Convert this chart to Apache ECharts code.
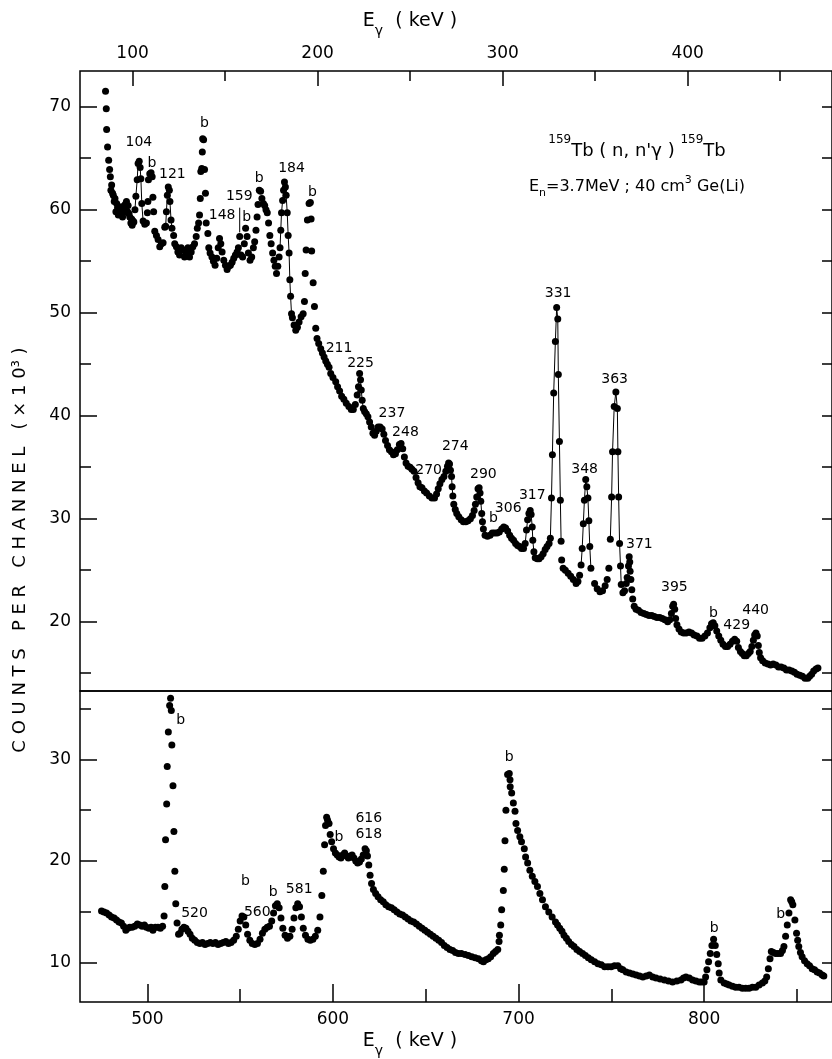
<!DOCTYPE html>
<html>
<head>
<meta charset="utf-8">
<title>159Tb(n,n'g) spectrum</title>
<script src="https://cdn.jsdelivr.net/npm/echarts@6/dist/echarts.min.js"></script>
<style>
html,body{margin:0;padding:0;background:#fff;}
#main{width:832px;height:1059px;}
</style>
</head>
<body>
<div id="main"></div>
<script>
// upper panel: [E (keV), counts per channel (x10^3)]
var topSpectrum = [
[85.4,71.5],[85.8,69.8],[86.0,67.8],[86.5,66.1],[87.1,64.8],[87.6,63.9],[88.0,63.2],[88.3,61.9],[88.7,62.4],[89.2,61.6],[89.6,61.4],[90.1,60.8],[90.5,61.1],[91.0,59.8],[91.4,60.6],[91.9,60.2],[92.3,59.5],[92.8,60.1],[93.3,59.9],[93.7,59.6],[94.1,60.3],[94.6,59.3],[95.0,59.7],[95.5,60.0],[96.0,60.5],[96.4,60.1],[96.7,60.8],[97.3,59.8],[97.6,60.4],[98.1,59.6],[98.5,59.3],[99.1,58.7],[99.5,59.1],[99.8,58.5],[100.3,58.9],[100.7,58.8],
[101.3,60.0],[101.8,61.3],[102.5,62.9],[103.0,64.5],[103.6,64.7],[104.1,64.1],[104.5,63.0],[105.0,60.6],[105.7,58.9],
[106.6,58.6],[107.5,58.7],[108.0,59.7],[108.3,60.8],[108.6,62.9],[109.3,63.5],[110.0,63.6],[110.6,63.2],[111.0,61.2],[111.4,59.8],[112.0,57.9],[112.9,57.5],[113.8,57.1],[114.7,56.4],[115.6,56.7],[116.5,56.8],[117.4,58.3],
[117.9,58.4],[118.3,59.8],[118.8,61.4],[119.3,62.2],[119.9,61.9],[120.2,60.8],[120.8,59.0],[121.3,58.2],
[122.2,57.5],[122.8,56.7],[123.7,56.4],[124.5,55.9],[125.4,55.6],[126.3,56.3],[127.2,56.1],[128.1,55.4],[129.0,55.8],[129.9,56.3],[130.8,55.4],[131.7,55.9],[132.6,56.4],[133.5,56.7],[134.4,57.4],[135.0,58.2],[135.7,58.7],
[136.2,59.5],[136.6,61.1],[136.9,63.7],[137.4,64.0],[137.7,65.6],[137.9,66.9],[138.4,66.8],[138.9,63.9],[139.4,61.6],[139.8,58.7],[140.7,57.7],[141.2,56.3],[141.9,55.8],[142.9,55.4],[143.7,55.0],[144.6,54.6],[145.5,55.3],[146.3,56.3],[147.0,57.2],[147.7,56.7],[148.4,55.9],[149.3,55.1],[150.2,54.6],[151.1,54.2],[152.0,54.5],[152.9,54.6],[153.8,54.9],[154.7,55.3],[155.6,55.6],[156.5,55.9],[157.2,56.3],[157.9,57.4],[158.6,55.6],[159.5,55.4],[160.4,56.7],[161.1,58.2],[161.9,57.4],[162.6,55.8],[163.5,55.1],[164.4,55.4],[165.3,56.3],[166.0,56.9],[166.7,58.0],[167.3,59.3],[167.8,60.5],[168.5,61.9],[169.2,61.8],[169.9,61.1],[170.7,60.6],[171.4,60.4],[172.1,60.0],[172.8,59.7],[173.5,58.7],[174.2,57.5],[174.9,56.7],[175.7,55.8],[176.4,55.1],[177.1,54.5],[177.8,53.8],[178.5,54.5],[179.2,55.4],
[179.7,56.3],[180.1,58.0],[180.5,59.7],[181.1,60.9],[181.6,61.9],[182.1,62.7],[182.6,62.2],[183.0,61.4],[183.6,59.7],[184.1,57.5],[184.6,55.8],[185.0,53.2],[185.4,51.6],[185.9,49.9],
[186.4,49.5],[187.3,48.8],[188.2,48.3],[189.1,48.6],[190.0,49.1],[191.1,49.6],[192.2,49.9],[192.9,51.1],[193.3,53.8],[193.8,56.1],[194.5,59.0],[195.4,60.6],[196.1,60.7],[196.5,59.1],[196.8,56.0],[197.6,52.9],[198.3,50.6],[199.0,48.5],[199.7,47.5],[200.6,47.0],[201.7,46.5],[202.6,46.1],[203.5,45.7],[204.4,45.3],[205.3,45.0],[206.2,44.7],[207.1,44.1],[208.3,43.7],[209.8,43.3],[210.8,42.8],[211.9,42.4],[213.0,41.9],[214.2,41.6],[215.5,41.2],[216.9,40.9],[218.2,40.6],[219.3,40.6],[220.4,41.1],
[221.4,42.0],[222.1,42.8],[222.7,44.1],[223.2,43.5],[223.6,42.5],[224.1,41.5],[224.7,40.7],
[225.4,40.4],[226.3,40.2],[227.2,39.9],[228.1,39.4],[229.0,38.9],[229.9,38.3],[230.8,38.1],[231.7,38.5],[232.7,38.9],[233.8,38.9],[234.9,38.7],[235.8,38.2],[236.7,37.6],[237.8,37.1],[238.8,36.7],[239.9,36.5],[241.0,36.2],[242.1,36.3],[243.1,36.7],[244.2,37.2],[245.1,37.3],[246.0,36.8],[246.9,36.0],[247.8,35.4],[248.9,35.1],[250.0,35.0],[251.0,34.8],[252.1,34.6],[253.2,34.0],[254.3,33.5],[255.3,33.1],[256.4,33.0],[257.7,32.7],[258.9,32.5],[260.4,32.2],[261.8,32.0],[263.2,32.0],[264.3,32.4],[265.2,32.9],[266.1,33.4],[267.2,33.8],[268.3,34.1],[269.3,34.6],[270.2,35.1],
[270.8,35.4],[271.3,35.3],[271.8,34.7],[272.4,34.1],[272.7,33.1],[273.1,32.2],
[273.6,31.4],[274.4,30.9],[275.2,30.5],[276.3,30.2],[277.6,29.9],[278.8,29.7],[280.1,29.7],[281.3,29.8],[282.6,30.0],[283.7,30.3],[284.6,30.8],
[285.3,31.4],[286.0,32.1],[286.7,32.9],[287.3,33.0],[287.8,32.5],[288.2,31.7],[288.7,30.5],[289.1,29.7],[289.6,29.0],
[290.5,28.4],[291.8,28.3],[293.2,28.4],[294.4,28.6],[295.7,28.6],[297.0,28.6],[298.2,28.7],[299.5,29.0],[300.6,29.2],[301.6,29.1],[302.7,28.8],[303.8,28.4],[304.8,28.1],[305.9,27.9],[307.0,27.6],[308.1,27.4],[309.2,27.3],[310.2,27.1],[311.3,27.1],
[312.2,27.6],[312.9,28.9],[313.5,29.9],[314.2,30.5],[314.9,30.8],[315.4,30.4],[316.0,29.2],[316.3,27.9],[316.9,26.8],
[317.6,26.2],[318.7,26.1],[319.7,26.1],[320.8,26.3],[321.9,26.6],[323.0,27.0],[324.0,27.3],[325.1,27.6],
[325.8,28.1],[326.4,32.0],[326.9,36.2],[327.6,42.2],[328.5,47.2],[329.2,50.5],[329.8,49.4],[330.1,44.0],[330.7,37.5],[331.2,31.8],[331.6,27.8],[331.9,26.0],
[332.7,25.2],[333.9,25.0],[335.4,24.7],[336.8,24.4],[338.2,24.1],[339.7,23.7],[340.7,23.9],[341.6,24.5],
[342.4,25.5],[343.0,27.1],[343.6,29.5],[344.2,31.8],[344.9,33.8],[345.5,33.1],[346.1,32.0],[346.6,29.8],[347.1,27.3],[347.7,25.2],
[349.7,23.7],[351.1,23.2],[352.6,22.9],[354.0,23.0],[355.4,23.5],[356.5,24.1],[357.4,25.2],
[358.2,28.0],[358.9,32.1],[359.4,36.5],[360.3,40.9],[361.2,42.3],[362.0,40.7],[362.3,36.5],[362.7,32.1],[363.2,27.6],[363.7,25.4],[364.1,23.6],
[365.0,22.8],[365.9,23.0],[366.8,23.7],[367.3,24.3],[368.0,25.4],[368.4,26.3],[368.7,25.8],[368.9,24.9],[369.3,24.1],[369.8,23.1],[370.3,22.2],[371.1,21.5],[372.1,21.2],[373.4,21.1],[374.8,20.9],[376.3,20.8],[377.7,20.7],[379.1,20.6],[380.6,20.6],[382.0,20.5],[383.4,20.4],[384.9,20.4],[386.3,20.3],[387.7,20.2],[389.2,20.0],[390.3,20.2],[391.2,20.8],[391.9,21.5],[392.4,21.7],[393.0,21.2],[393.5,20.3],[394.2,19.7],[395.3,19.3],[396.5,19.0],[397.8,18.9],[399.2,18.9],[400.7,19.0],[402.1,18.9],[403.5,18.7],[405.0,18.6],[406.4,18.4],[407.8,18.4],[409.3,18.6],[410.7,18.9],[412.0,19.4],[412.9,19.8],[413.8,19.9],[414.7,19.6],[415.7,19.1],[416.8,18.6],[417.9,18.2],[419.1,17.8],[420.4,17.6],[421.6,17.6],[422.9,17.8],[424.2,18.1],[425.4,18.3],[426.5,18.1],[427.4,17.5],[428.5,17.1],[429.5,16.9],[430.6,16.7],[431.7,16.7],[432.8,16.9],[433.8,17.1],[434.7,17.6],[435.5,18.2],[436.2,18.7],[436.9,18.9],[437.6,18.6],[438.2,17.7],[438.7,17.0],[439.4,16.5],[440.5,16.2],[441.9,16.0],[443.4,15.9],[444.8,15.8],[446.2,15.9],[447.7,15.8],[449.1,15.6],[450.5,15.6],[452.0,15.5],[453.4,15.3],[454.8,15.3],[456.3,15.2],[457.7,15.1],[459.1,14.9],[460.6,14.8],[462.0,14.7],[463.4,14.5],[464.9,14.5],[465.9,14.7],[467.0,14.9],[468.1,15.2],[469.4,15.4],[470.4,15.5]
];

// lower panel
var bottomSpectrum = [
[475.3,15.1],[476.6,15.0],[478.0,14.9],[479.4,14.7],[480.7,14.5],[482.1,14.4],[483.4,14.2],[484.7,14.0],[486.0,13.9],[487.2,13.6],[488.4,13.2],[489.5,13.4],[490.5,13.5],[491.8,13.5],[493.2,13.6],[494.6,13.8],[495.9,13.7],[497.2,13.6],[498.4,13.7],[499.5,13.5],[500.8,13.4],[502.0,13.5],[503.0,13.2],[504.3,13.5],[505.7,13.5],[507.0,13.4],[508.2,13.6],
[509.0,14.6],[509.4,17.5],[509.8,22.1],[510.4,25.6],[510.7,29.3],[511.3,32.7],[512.0,35.3],[512.5,36.0],[512.9,34.8],[513.2,31.4],[513.8,27.4],[514.3,22.9],[514.8,19.0],[515.3,15.8],[516.0,13.9],[516.8,12.8],
[517.6,12.9],[518.6,13.3],[519.7,13.5],[520.8,13.4],[521.9,13.1],[523.0,12.8],[524.2,12.4],[525.5,12.2],[526.9,12.0],[528.3,11.9],[529.7,12.0],[531.1,11.8],[532.5,11.9],[533.9,12.0],[535.3,11.9],[536.7,12.0],[538.1,11.8],[539.5,11.9],[540.9,12.0],[542.3,12.1],[543.7,11.9],[545.1,12.0],[546.5,12.2],[547.9,12.6],[549.0,13.3],[550.0,14.1],[551.0,14.6],[552.0,14.5],[553.0,13.7],[554.0,12.8],[555.2,12.2],[556.5,11.9],[557.9,11.8],[559.3,11.9],[560.7,12.3],[562.0,12.9],[563.3,13.3],[564.6,13.5],[565.8,13.6],[567.0,14.1],[568.0,14.9],[569.0,15.6],[570.0,15.8],[571.0,15.4],[572.0,14.4],[573.0,13.4],[574.2,12.7],[575.5,12.4],[576.8,12.6],[578.0,13.3],[579.0,14.4],[580.0,15.4],[581.0,15.8],[582.0,15.5],[583.0,14.5],[584.0,13.4],[585.2,12.7],[586.5,12.3],[587.8,12.2],[589.2,12.3],[590.5,12.6],[591.8,13.2],[593.0,14.5],[594.0,16.6],[594.8,19.0],[595.5,21.6],[596.0,23.5],[596.6,24.3],[597.1,24.0],[597.9,23.7],[598.5,22.6],[599.3,21.9],[600.3,21.2],[601.3,20.8],[602.3,20.6],[603.3,20.4],[604.3,20.3],[605.3,20.6],[606.3,20.8],[607.3,20.5],[608.3,20.3],[609.3,20.5],[610.3,20.6],[611.3,20.3],[612.3,20.0],[613.3,19.8],[614.3,19.9],[615.3,20.2],[616.3,20.6],[617.3,21.2],[618.0,21.0],[618.6,20.5],[619.3,19.6],[620.0,18.6],[620.8,17.8],[621.8,17.2],[623.0,16.8],[624.3,16.5],[625.7,16.2],[627.1,16.0],[628.5,15.7],[630.0,15.5],[631.5,15.4],[633.0,15.2],[634.5,15.0],[636.0,14.8],[637.5,14.7],[639.0,14.5],[640.5,14.3],[642.0,14.1],[643.5,14.0],[645.0,13.8],[646.5,13.6],[648.0,13.4],[649.5,13.2],[651.0,13.0],[652.5,12.8],[654.0,12.6],[655.5,12.4],[657.0,12.2],[658.5,12.0],[660.0,11.7],[661.5,11.5],[663.0,11.3],[664.5,11.2],[666.0,11.0],[667.6,10.9],[669.2,10.9],[671.2,10.8],[673.0,10.7],[674.8,10.6],[676.6,10.5],[678.4,10.4],[680.0,10.2],[681.1,10.1],[682.4,10.3],[683.7,10.4],[685.0,10.6],[686.4,10.9],[687.6,11.1],[688.8,11.3],
[689.5,12.1],[689.7,12.7],[690.4,13.7],[690.9,15.2],[691.8,17.1],[692.3,19.2],[692.7,22.0],[693.2,25.0],[694.1,28.5],[695.0,28.6],[695.4,28.0],[695.5,27.3],[696.3,26.7],[697.2,25.7],[698.1,24.9],[698.6,23.7],[699.5,23.0],[700.7,22.4],[701.6,21.9],[703.1,21.2],[703.8,20.4],[704.9,19.8],[706.1,19.1],[707.4,18.5],[708.8,18.0],[710.2,17.5],[711.5,16.8],[712.9,16.2],[714.5,15.5],[716.3,15.0],[718.1,14.5],[719.9,14.0],[721.0,13.7],[722.2,13.4],[723.4,13.1],[724.5,12.7],[725.8,12.4],[727.0,12.1],[728.5,11.8],[729.9,11.6],[731.4,11.3],[732.9,11.1],[734.5,10.9],[736.0,10.7],[737.6,10.5],[739.2,10.3],[741.0,10.1],[742.8,9.9],[744.6,9.8],[746.4,9.6],[748.2,9.6],[749.9,9.6],[751.7,9.7],[753.5,9.7],[755.0,9.4],[756.2,9.3],[758.0,9.1],[759.8,9.0],[761.6,8.9],[763.4,8.8],[765.2,8.7],[767.0,8.6],[768.8,8.7],[770.5,8.8],[772.3,8.6],[774.1,8.5],[776.3,8.4],[778.6,8.3],[780.8,8.2],[783.0,8.1],[785.3,8.2],[787.5,8.3],[788.9,8.5],[790.2,8.6],[792.0,8.5],[793.8,8.3],[795.6,8.2],[797.4,8.1],[798.7,8.1],[800.0,8.1],
[800.8,8.6],[801.5,9.3],[802.4,10.1],[803.3,10.9],[804.2,11.7],[805.1,12.3],[806.0,11.7],[806.8,10.8],[807.6,9.9],[808.1,9.0],[809.0,8.3],[810.8,8.0],[812.2,7.9],[813.5,7.8],[815.3,7.7],[817.0,7.6],[818.8,7.6],[820.6,7.5],[822.4,7.5],[824.2,7.5],[826.0,7.6],[827.8,7.6],[829.6,7.8],[831.4,8.0],[832.7,8.2],[833.7,8.6],[834.6,9.4],[835.5,10.4],[836.2,11.1],[837.3,11.0],[838.5,10.9],[839.8,10.9],[841.2,10.9],[842.2,11.2],[843.0,11.6],[843.9,12.6],[844.8,13.7],[845.7,14.9],[846.6,16.2],[847.2,16.0],[847.8,15.7],[848.9,14.2],[849.8,12.9],[850.4,12.2],[851.0,11.6],[851.9,11.0],[852.8,10.6],[854.1,10.2],[855.5,9.9],[856.8,9.7],[858.2,9.4],[859.5,9.3],[860.9,9.1],[862.2,9.0],[863.6,8.8],[864.5,8.7]
];

// peaks whose channels are joined by a thin line [from, to] keV
var topJoinedPeaks = [[101.0,105.8],[117.8,121.4],[179.6,186.0],[221.3,224.8],[270.7,273.2],[285.2,289.7],[312.1,317.0],[325.7,331.7],[342.3,347.8],[358.0,364.2]];

// peak tags [E, counts, text]
var topTags = [
[103.4,66.5,'104'],[110.5,64.5,'b'],[121.5,63.4,'121'],[138.9,68.4,'b'],[148.4,59.5,'148'],[157.7,61.3,'159'],[161.7,59.3,'b'],
[168.5,63.0,'b'],[185.9,64.0,'184'],[197.2,61.7,'b'],[211.6,46.5,'211'],[223.2,45.1,'225'],[240.2,40.2,'237'],[247.5,38.4,'248'],
[260.0,34.7,'270'],[274.4,37.0,'274'],[289.6,34.3,'290'],[295.0,30.0,'b'],[303.0,31.0,'306'],[316.0,32.3,'317'],[330.0,51.9,'331'],
[344.3,34.8,'348'],[360.5,43.5,'363'],[373.9,27.5,'371'],[392.8,23.3,'395'],[413.9,20.8,'b'],[426.5,19.6,'429'],[436.7,21.1,'440']
];
var bottomTags = [
[517.9,33.8,'b'],[525.4,14.9,'520'],[552.8,18.0,'b'],[559.2,15.0,'560'],[567.8,16.9,'b'],[581.8,17.2,'581'],[603.2,22.3,'b'],
[619.3,24.2,'616'],[619.3,22.6,'618'],[695.0,30.2,'b'],[805.4,13.4,'b'],[841.2,14.8,'b']
];
// leader from the 159 tag down to its peak
var tag159Leader = [[157.9,60.2],[157.9,57.8]];

// axes
var topRange = [71.6, 478.0];
var bottomRange = [463.7, 868.9];
var topCountRange = [13.27, 73.47];
var bottomCountRange = [6.14, 36.72];
var topLabels = [100,200,300,400];
var topHalfTicks = [150,250,350,450];
var bottomLabels = [500,600,700,800];
var bottomHalfTicks = [550,650,750,850];
var topCountLabels = [20,30,40,50,60,70];
var topCountHalf = [15,25,35,45,55,65];
var topCountRight = [15,20,25,30,35,40,45,50,55,60,65,70];
var bottomCountLabels = [10,20,30];
var bottomCountHalf = [15,25,35];
var bottomCountRight = [10,15,20,25,30,35];

var ink = '#000';
var font = 'DejaVu Sans';

function tickAxis(gridIndex, position, range, ticks, len, labels){
	var ax = {
		gridIndex: gridIndex,
		type: 'value',
		position: position,
		min: range[0],
		max: range[1],
		axisLine: {show: false},
		splitLine: {show: false},
		axisTick: {show: true, inside: true, length: len, customValues: ticks, lineStyle: {color: ink, width: 1.5}},
		axisLabel: {show: false}
	};
	if(labels){
		ax.axisLabel = {show: true, customValues: labels, margin: 9, color: ink, fontSize: 17, fontFamily: font};
	}
	return ax;
}

// pick the channels of each joined peak
function joined(data, ranges){
	var out = [];
	ranges.forEach(function(r){
		out.push(data.filter(function(p){ return p[0] >= r[0] && p[0] <= r[1]; }));
	});
	return out;
}

function tagItems(tags){
	return tags.map(function(t){ return {value: [t[0], t[1]], name: t[2]}; });
}

var chart = echarts.init(document.getElementById('main'));

var dotStyle = {color: ink, opacity: 1};
var tagLabel = {show: true, position: 'inside', formatter: '{b}', color: ink, opacity: 1, fontSize: 14, fontFamily: font};

var series = [];
series.push({
	type: 'scatter', xAxisIndex: 0, yAxisIndex: 0,
	symbolSize: 7, itemStyle: dotStyle,
	data: topSpectrum, z: 3
});
joined(topSpectrum, topJoinedPeaks).forEach(function(seg){
	series.push({
		type: 'line', xAxisIndex: 0, yAxisIndex: 0,
		showSymbol: false, symbol: 'none',
		lineStyle: {color: ink, width: 1},
		data: seg, z: 2
	});
});
series.push({
	type: 'line', xAxisIndex: 0, yAxisIndex: 0, symbol: 'none',
	lineStyle: {color: ink, width: 1}, data: tag159Leader
});
series.push({
	type: 'scatter', xAxisIndex: 0, yAxisIndex: 0, symbolSize: 0,
	itemStyle: dotStyle, label: tagLabel, data: tagItems(topTags)
});
series.push({
	type: 'scatter', xAxisIndex: 2, yAxisIndex: 3,
	symbolSize: 7, itemStyle: dotStyle,
	data: bottomSpectrum, z: 3
});
series.push({
	type: 'scatter', xAxisIndex: 2, yAxisIndex: 3, symbolSize: 0,
	itemStyle: dotStyle, label: tagLabel, data: tagItems(bottomTags)
});

var titleRich = {
	a: {fontSize: 19, fontFamily: font, fill: ink, color: ink, lineHeight: 26, verticalAlign: 'top'},
	s: {fontSize: 14, fontFamily: font, fill: ink, color: ink, verticalAlign: 'bottom'}
};

var option = {
	backgroundColor: '#fff',
	animation: false,
	grid: [
		{left: 80, top: 71, width: 755, height: 620, show: true, borderColor: ink, borderWidth: 1.5},
		{left: 80, top: 691, width: 755, height: 311, show: true, borderColor: ink, borderWidth: 1.5}
	],
	xAxis: [
		tickAxis(0, 'top', topRange, topLabels, 15, topLabels),
		tickAxis(0, 'top', topRange, topHalfTicks, 10),
		tickAxis(1, 'bottom', bottomRange, bottomLabels, 18, bottomLabels),
		tickAxis(1, 'bottom', bottomRange, bottomHalfTicks, 13)
	],
	yAxis: [
		tickAxis(0, 'left', topCountRange, topCountLabels, 17, topCountLabels),
		tickAxis(0, 'left', topCountRange, topCountHalf, 11),
		tickAxis(0, 'right', topCountRange, topCountRight, 10),
		tickAxis(1, 'left', bottomCountRange, bottomCountLabels, 17, bottomCountLabels),
		tickAxis(1, 'left', bottomCountRange, bottomCountHalf, 11),
		tickAxis(1, 'right', bottomCountRange, bottomCountRight, 10)
	],
	graphic: [
		{type: 'text', x: 410, y: 25, style: {
			text: '{a|E}{s|γ}{a|  ( keV )}', align: 'center', verticalAlign: 'middle', textAlign: 'center', textVerticalAlign: 'middle',
			rich: titleRich
		}},
		{type: 'text', x: 410, y: 1045, style: {
			text: '{a|E}{s|γ}{a|  ( keV )}', align: 'center', verticalAlign: 'middle', textAlign: 'center', textVerticalAlign: 'middle',
			rich: titleRich
		}},
		{type: 'text', x: 20, y: 550, rotation: Math.PI / 2, style: {
			text: 'C O U N T S   P E R   C H A N N E L   ( × 1 0³ )',
			fontSize: 18, fontFamily: font, fill: ink,
			align: 'center', verticalAlign: 'middle', textAlign: 'center', textVerticalAlign: 'middle'
		}},
		{type: 'text', x: 637, y: 147, style: {
			text: '{p|159}{m|Tb ( n, n\'γ ) }{p|159}{m|Tb}', align: 'center', verticalAlign: 'middle', textAlign: 'center', textVerticalAlign: 'middle',
			rich: {m: {fontSize: 18, fontFamily: font, fill: ink, color: ink, lineHeight: 26, verticalAlign: 'bottom'},
			       p: {fontSize: 12, fontFamily: font, fill: ink, color: ink, verticalAlign: 'top'}}
		}},
		{type: 'text', x: 637, y: 187, style: {
			text: '{m|E}{q|n}{m|=3.7MeV ; 40 cm}{p|3}{m| Ge(Li)}', align: 'center', verticalAlign: 'middle', textAlign: 'center', textVerticalAlign: 'middle',
			rich: {m: {fontSize: 16, fontFamily: font, fill: ink, color: ink, lineHeight: 24},
			       p: {fontSize: 11, fontFamily: font, fill: ink, color: ink, verticalAlign: 'top'},
			       q: {fontSize: 11, fontFamily: font, fill: ink, color: ink, verticalAlign: 'bottom'}}
		}}
	],
	series: series
};
chart.setOption(option);
window.addEventListener('resize', function(){
	chart.resize();
});
</script>
</body>
</html>
